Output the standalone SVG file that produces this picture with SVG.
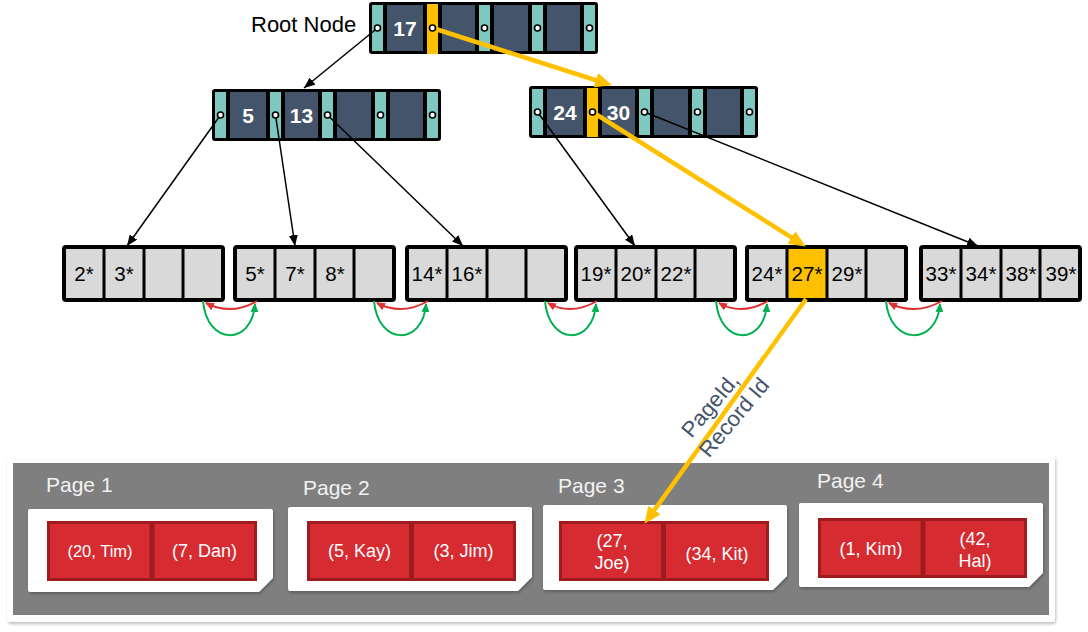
<svg xmlns="http://www.w3.org/2000/svg" width="1088" height="632" viewBox="0 0 1088 632">
<style>
.lbl{font-family:"Liberation Sans",Arial,sans-serif;}
.key{font-family:"Liberation Sans",Arial,sans-serif;font-weight:bold;font-size:21px;fill:#fff;text-anchor:middle;}
.lt{font-family:"Liberation Sans",Arial,sans-serif;font-size:20.5px;fill:#000;text-anchor:middle;}
.rt{font-family:"Liberation Sans",Arial,sans-serif;font-size:18px;fill:#fff;text-anchor:middle;}
.pg{font-family:"Liberation Sans",Arial,sans-serif;font-size:21px;fill:#f2f2f2;}
.nodebg{fill:#000;}
.tl{fill:#7ec8bf;}
.kc{fill:#44546a;}
.yl{fill:#ffc000;}
.dot{fill:#fff;stroke:#000;stroke-width:1.6;}
.leaf{fill:#d9d9d9;stroke:#000;stroke-width:4;}
.div{stroke:#000;stroke-width:3;}
.blk{stroke:#000;stroke-width:1.5;fill:none;}
.ylw{stroke:#ffc000;stroke-width:4.5;fill:none;}
.red{stroke:#e0302f;stroke-width:2;fill:none;}
.grn{stroke:#00b050;stroke-width:2;fill:none;}
.card{fill:#fff;}
.rec{fill:#d62b31;stroke:#9e1b20;stroke-width:3;}
</style>
<defs>
<marker id="ab" markerUnits="userSpaceOnUse" markerWidth="11" markerHeight="9" refX="11" refY="4.5" orient="auto"><path d="M0,0 L11,4.5 L0,9 z" fill="#000"/></marker>
<marker id="ay" markerUnits="userSpaceOnUse" markerWidth="17" markerHeight="15" refX="6" refY="7.5" orient="auto"><path d="M0,0 L17,7.5 L0,15 z" fill="#ffc000"/></marker>
<marker id="ar" markerUnits="userSpaceOnUse" markerWidth="9" markerHeight="8" refX="8" refY="4" orient="auto"><path d="M0,0 L9,4 L0,8 z" fill="#e0302f"/></marker>
<marker id="ag" markerUnits="userSpaceOnUse" markerWidth="9" markerHeight="8" refX="8" refY="4" orient="auto"><path d="M0,0 L9,4 L0,8 z" fill="#00b050"/></marker>
<filter id="sh" x="-5%" y="-10%" width="110%" height="130%"><feDropShadow dx="1" dy="2" stdDeviation="1.5" flood-color="#000" flood-opacity="0.25"/></filter>
</defs>
<rect width="1088" height="632" fill="#fff"/>

<!-- storage pages -->
<g id="storage">
<rect x="7" y="456" width="1048" height="166" rx="3" fill="#fff" filter="url(#sh)"/>
<rect x="13" y="463" width="1036" height="152" fill="#7f7f7f"/>
</g>
<g id="page1">
<text class="pg" x="46" y="492">Page 1</text>
<path class="card" filter="url(#sh)" d="M30,509 H271 Q273,509 273,511 V578 L259,592 H30 Q28,592 28,590 V511 Q28,509 30,509 z"/>
<rect class="rec" x="48.5" y="522.5" width="102.5" height="57"/>
<rect class="rec" x="153" y="522.5" width="102.5" height="57"/>
<text class="rt" x="100" y="557" style="font-size:16.5px">(20, Tim)</text>
<text class="rt" x="204.5" y="557">(7, Dan)</text>
</g>
<g id="page2">
<text class="pg" x="303" y="495">Page 2</text>
<path class="card" filter="url(#sh)" d="M290,507 H530 Q532,507 532,509 V577 L518,591 H290 Q288,591 288,589 V509 Q288,507 290,507 z"/>
<rect class="rec" x="308.5" y="522.5" width="102" height="57"/>
<rect class="rec" x="412.5" y="522.5" width="102" height="57"/>
<text class="rt" x="359.5" y="557">(5, Kay)</text>
<text class="rt" x="463.5" y="557">(3, Jim)</text>
</g>
<g id="page3">
<text class="pg" x="558" y="493">Page 3</text>
<path class="card" filter="url(#sh)" d="M545,505 H785 Q787,505 787,507 V576 L773,590 H545 Q543,590 543,588 V507 Q543,505 545,505 z"/>
<rect class="rec" x="560.5" y="522.5" width="102" height="57"/>
<rect class="rec" x="664.5" y="522.5" width="103" height="57"/>
<text class="rt" x="612" y="547">(27,</text>
<text class="rt" x="612" y="569">Joe)</text>
<text class="rt" x="717" y="560">(34, Kit)</text>
</g>
<g id="page4">
<text class="pg" x="817" y="488">Page 4</text>
<path class="card" filter="url(#sh)" d="M801,503 H1041 Q1043,503 1043,505 V573 L1029,587 H801 Q799,587 799,585 V505 Q799,503 801,503 z"/>
<rect class="rec" x="819.5" y="519.5" width="102.5" height="57"/>
<rect class="rec" x="924" y="519.5" width="101.5" height="57"/>
<text class="rt" x="871" y="555">(1, Kim)</text>
<text class="rt" x="975" y="545">(42,</text>
<text class="rt" x="975" y="567">Hal)</text>
</g>

<!-- root node -->
<g id="root">
<text class="lbl" x="251" y="32" style="font-size:22px;fill:#000">Root Node</text>
<rect class="nodebg" x="369" y="2" width="229" height="52" rx="3"/>
<rect class="tl" x="372" y="5" width="11" height="46"/>
<rect class="kc" x="387" y="5" width="36" height="46"/>
<rect class="yl" x="427" y="4" width="11" height="50"/>
<rect class="kc" x="442" y="5" width="33" height="46"/>
<rect class="tl" x="479" y="5" width="11" height="46"/>
<rect class="kc" x="494" y="5" width="34" height="46"/>
<rect class="tl" x="532" y="5" width="11" height="46"/>
<rect class="kc" x="547" y="5" width="33" height="46"/>
<rect class="tl" x="584" y="5" width="11" height="46"/>
<text class="key" x="405" y="36">17</text>
</g>

<!-- inner left -->
<g id="inner-left">
<rect class="nodebg" x="212" y="89" width="229" height="52" rx="3"/>
<rect class="tl" x="215" y="92" width="11" height="46"/>
<rect class="kc" x="230" y="92" width="36" height="46"/>
<rect class="tl" x="270" y="92" width="11" height="46"/>
<rect class="kc" x="285" y="92" width="33" height="46"/>
<rect class="tl" x="322" y="92" width="11" height="46"/>
<rect class="kc" x="337" y="92" width="34" height="46"/>
<rect class="tl" x="375" y="92" width="11" height="46"/>
<rect class="kc" x="390" y="92" width="33" height="46"/>
<rect class="tl" x="427" y="92" width="11" height="46"/>
<text class="key" x="248" y="123">5</text>
<text class="key" x="301.5" y="123">13</text>
</g>

<!-- inner right -->
<g id="inner-right">
<rect class="nodebg" x="529" y="86" width="229" height="52" rx="3"/>
<rect class="tl" x="532" y="89" width="11" height="46"/>
<rect class="kc" x="547" y="89" width="36" height="46"/>
<rect class="yl" x="587" y="88" width="11" height="49"/>
<rect class="kc" x="602" y="89" width="33" height="46"/>
<rect class="tl" x="639" y="89" width="11" height="46"/>
<rect class="kc" x="654" y="89" width="34" height="46"/>
<rect class="tl" x="692" y="89" width="11" height="46"/>
<rect class="kc" x="707" y="89" width="33" height="46"/>
<rect class="tl" x="744" y="89" width="11" height="46"/>
<text class="key" x="565" y="120">24</text>
<text class="key" x="618.5" y="120">30</text>
</g>

<!-- leaves -->
<g id="leaf1">
<rect class="leaf" x="64" y="247" width="159" height="53" rx="2"/>
<line class="div" x1="104" y1="247" x2="104" y2="300"/><line class="div" x1="144" y1="247" x2="144" y2="300"/><line class="div" x1="183" y1="247" x2="183" y2="300"/>
<text class="lt" x="84" y="281">2*</text><text class="lt" x="124" y="281">3*</text>
</g>
<g id="leaf2">
<rect class="leaf" x="235" y="247" width="159" height="53" rx="2"/>
<line class="div" x1="275" y1="247" x2="275" y2="300"/><line class="div" x1="315" y1="247" x2="315" y2="300"/><line class="div" x1="354" y1="247" x2="354" y2="300"/>
<text class="lt" x="255" y="281">5*</text><text class="lt" x="295" y="281">7*</text><text class="lt" x="335" y="281">8*</text>
</g>
<g id="leaf3">
<rect class="leaf" x="407" y="247" width="159" height="53" rx="2"/>
<line class="div" x1="447" y1="247" x2="447" y2="300"/><line class="div" x1="487" y1="247" x2="487" y2="300"/><line class="div" x1="526" y1="247" x2="526" y2="300"/>
<text class="lt" x="427" y="281">14*</text><text class="lt" x="467" y="281">16*</text>
</g>
<g id="leaf4">
<rect class="leaf" x="576" y="247" width="159" height="53" rx="2"/>
<line class="div" x1="616" y1="247" x2="616" y2="300"/><line class="div" x1="656" y1="247" x2="656" y2="300"/><line class="div" x1="695" y1="247" x2="695" y2="300"/>
<text class="lt" x="596" y="281">19*</text><text class="lt" x="636" y="281">20*</text><text class="lt" x="676" y="281">22*</text>
</g>
<g id="leaf5">
<rect class="leaf" x="747" y="247" width="159" height="53" rx="2"/>
<rect x="787" y="247" width="40" height="53" fill="#ffc000"/>
<rect x="747" y="247" width="159" height="53" rx="2" fill="none" stroke="#000" stroke-width="4"/>
<line class="div" x1="787" y1="247" x2="787" y2="300"/><line class="div" x1="827" y1="247" x2="827" y2="300"/><line class="div" x1="866" y1="247" x2="866" y2="300"/>
<text class="lt" x="767" y="281">24*</text><text class="lt" x="807" y="281">27*</text><text class="lt" x="847" y="281">29*</text>
</g>
<g id="leaf6">
<rect class="leaf" x="921" y="247" width="159" height="53" rx="2"/>
<line class="div" x1="961" y1="247" x2="961" y2="300"/><line class="div" x1="1001" y1="247" x2="1001" y2="300"/><line class="div" x1="1040" y1="247" x2="1040" y2="300"/>
<text class="lt" x="941" y="281">33*</text><text class="lt" x="981" y="281">34*</text><text class="lt" x="1021" y="281">38*</text><text class="lt" x="1061" y="281">39*</text>
</g>

<!-- connectors -->
<g id="connectors">
<line class="blk" x1="377.5" y1="28" x2="304" y2="88" marker-end="url(#ab)"/>
<line class="blk" x1="220.5" y1="115" x2="127" y2="246" marker-end="url(#ab)"/>
<line class="blk" x1="275.5" y1="115" x2="295" y2="246" marker-end="url(#ab)"/>
<line class="blk" x1="327.5" y1="115" x2="463" y2="246" marker-end="url(#ab)"/>
<line class="blk" x1="537.5" y1="112" x2="635" y2="246" marker-end="url(#ab)"/>
<line class="blk" x1="644.5" y1="112" x2="978" y2="246" marker-end="url(#ab)"/>
<line class="ylw" x1="432.5" y1="28" x2="601.5" y2="82" marker-end="url(#ay)"/>
<line class="ylw" x1="592.5" y1="112" x2="796.5" y2="240.7" marker-end="url(#ay)"/>
<line class="ylw" x1="806" y1="299" x2="650.9" y2="514.9" marker-end="url(#ay)"/>
<path class="red" d="M257,301 Q231,316 206,303" marker-end="url(#ar)"/>
<path class="grn" d="M203,301 C207,346 252,346 255,304" marker-end="url(#ag)"/>
<path class="red" d="M428,301 Q402,316 377,303" marker-end="url(#ar)"/>
<path class="grn" d="M374,301 C378,346 423,346 426,304" marker-end="url(#ag)"/>
<path class="red" d="M597,301 Q571,316 548,303" marker-end="url(#ar)"/>
<path class="grn" d="M545,301 C549,346 593,346 596,304" marker-end="url(#ag)"/>
<path class="red" d="M768,301 Q742,316 719,303" marker-end="url(#ar)"/>
<path class="grn" d="M716,301 C720,346 764,346 767,304" marker-end="url(#ag)"/>
<path class="red" d="M942,301 Q915,316 889,303" marker-end="url(#ar)"/>
<path class="grn" d="M886,301 C890,346 937,346 940,304" marker-end="url(#ag)"/>
<g transform="translate(716,410) rotate(-50)">
<text class="lbl" x="0" y="0" text-anchor="middle" style="font-size:22px;fill:#44546a">PageId,</text>
<text class="lbl" x="6" y="26" text-anchor="middle" style="font-size:22px;fill:#44546a">Record Id</text>
</g>
</g>

<!-- pointer dots -->
<g id="pointer-dots">
<circle class="dot" cx="377.5" cy="28" r="3"/><circle class="dot" cx="432.5" cy="28" r="3"/><circle class="dot" cx="484.5" cy="28" r="3"/><circle class="dot" cx="537.5" cy="28" r="3"/><circle class="dot" cx="589.5" cy="28" r="3"/>
<circle class="dot" cx="220.5" cy="115" r="3"/><circle class="dot" cx="275.5" cy="115" r="3"/><circle class="dot" cx="327.5" cy="115" r="3"/><circle class="dot" cx="380.5" cy="115" r="3"/><circle class="dot" cx="432.5" cy="115" r="3"/>
<circle class="dot" cx="537.5" cy="112" r="3"/><circle class="dot" cx="592.5" cy="112" r="3"/><circle class="dot" cx="644.5" cy="112" r="3"/><circle class="dot" cx="697.5" cy="112" r="3"/><circle class="dot" cx="749.5" cy="112" r="3"/>
</g>
</svg>
